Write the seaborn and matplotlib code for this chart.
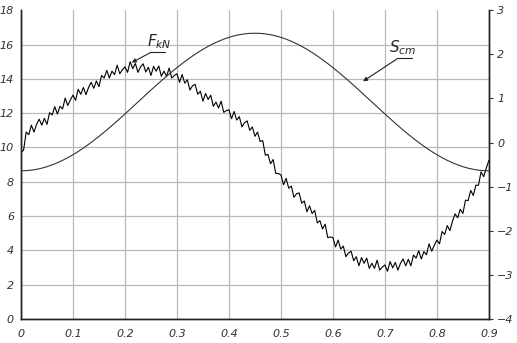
import numpy as np
import pandas as pd
import matplotlib
matplotlib.use("Agg")
import matplotlib.pyplot as plt
import seaborn as sns

# force F, kN, sampled every 0.005 s
force_kn = [
    9.7, 9.85, 10.9, 10.75, 11.3, 10.9, 11.35, 11.65, 11.3, 11.7,
    11.35, 12.03, 11.9, 12.38, 11.95, 12.4, 12.25, 12.88, 12.45, 12.78,
    13.05, 12.75, 13.4, 13.1, 13.5, 13.08, 13.5, 13.8, 13.45, 13.88,
    13.55, 14.2, 14.05, 14.5, 14.05, 14.45, 14.25, 14.8, 14.3, 14.53,
    14.7, 14.38, 15.0, 14.6, 14.9, 14.38, 14.7, 14.88, 14.4, 14.68,
    14.2, 14.73, 14.45, 14.75, 14.15, 14.45, 14.15, 14.63, 14.05, 14.2,
    14.3, 13.8, 14.25, 13.75, 13.95, 13.35, 13.6, 13.68, 13.1, 13.28,
    12.7, 13.15, 12.8, 13.05, 12.4, 12.65, 12.3, 12.7, 12.05, 12.15,
    12.2, 11.68, 12.1, 11.6, 11.8, 11.2, 11.45, 11.55, 11.0, 11.2,
    10.65, 10.9, 10.35, 10.4, 9.55, 9.6, 9.05, 9.3, 8.5, 8.48,
    8.4, 7.83, 8.2, 7.63, 7.75, 7.1, 7.3, 7.35, 6.75, 6.88,
    6.25, 6.6, 6.15, 6.33, 5.6, 5.73, 5.25, 5.53, 4.75, 4.78,
    4.75, 4.2, 4.6, 4.08, 4.25, 3.63, 3.85, 3.95, 3.4, 3.63,
    3.1, 3.58, 3.25, 3.55, 2.95, 3.25, 2.95, 3.43, 2.85, 3.03,
    3.15, 2.78, 3.35, 2.98, 3.3, 2.85, 3.25, 3.5, 3.1, 3.48,
    3.1, 3.73, 3.55, 3.98, 3.5, 3.93, 3.75, 4.38, 3.95, 4.3,
    4.6, 4.38, 5.1, 4.93, 5.45, 5.15, 5.7, 6.13, 5.9, 6.4,
    6.15, 6.93, 6.9, 7.5, 7.2, 7.8, 7.8, 8.58, 8.3, 8.8,
    9.25,
]

# displacement S, cm, sampled every 0.01 s
disp_cm = [
    -0.64, -0.636, -0.625, -0.606, -0.58, -0.546, -0.505, -0.457, -0.403, -0.342,
    -0.275, -0.202, -0.124, -0.04, 0.048, 0.14, 0.236, 0.336, 0.438, 0.543,
    0.649, 0.757, 0.866, 0.974, 1.083, 1.191, 1.297, 1.402, 1.504, 1.604,
    1.70, 1.792, 1.88, 1.964, 2.042, 2.115, 2.182, 2.243, 2.297, 2.345,
    2.386, 2.42, 2.446, 2.465, 2.476, 2.48, 2.476, 2.465, 2.446, 2.42,
    2.386, 2.345, 2.297, 2.243, 2.182, 2.115, 2.042, 1.964, 1.88, 1.792,
    1.70, 1.604, 1.504, 1.402, 1.297, 1.191, 1.083, 0.974, 0.866, 0.757,
    0.649, 0.543, 0.438, 0.336, 0.236, 0.14, 0.048, -0.04, -0.124, -0.202,
    -0.275, -0.342, -0.403, -0.457, -0.505, -0.546, -0.58, -0.606, -0.625, -0.636,
    -0.64,
]

x_ticks = [0, 0.1, 0.2, 0.3, 0.4, 0.5, 0.6, 0.7, 0.8, 0.9]
x_labels = ["0", "0.1", "0.2", "0.3", "0.4", "0.5", "0.6", "0.7", "0.8", "0.9"]
left_ticks = [0, 2, 4, 6, 8, 10, 12, 14, 16, 18]
right_ticks = [-4, -3, -2, -1, 0, 1, 2, 3]


def main():
    sns.set_style("white")
    plt.rcParams['font.family'] = ['Liberation Sans Narrow', 'DejaVu Sans']
    plt.rcParams['font.style'] = 'italic'
    plt.rcParams['mathtext.fontset'] = 'dejavusans'

    f_df = pd.DataFrame({
        't': np.linspace(0, 0.9, len(force_kn)),
        'F': force_kn,
    })
    s_df = pd.DataFrame({
        't': np.linspace(0, 0.9, len(disp_cm)),
        'S': disp_cm,
    })

    fig = plt.figure(figsize=(5.17, 3.43), dpi=100)
    ax = fig.add_axes([0.0406, 0.070, 0.905, 0.900])
    ax2 = ax.twinx()

    sns.lineplot(data=f_df, x='t', y='F', ax=ax, color='black',
                 linewidth=0.8, estimator=None, zorder=3)
    sns.lineplot(data=s_df, x='t', y='S', ax=ax2, color='#333333',
                 linewidth=0.8, estimator=None, zorder=3)

    ax.set_xlim(0, 0.9)
    ax.set_ylim(0, 18)
    ax2.set_ylim(-4, 3)
    ax.set_xticks(x_ticks)
    ax.set_xticklabels(x_labels)
    ax.set_yticks(left_ticks)
    ax2.set_yticks(right_ticks)
    for a in (ax, ax2):
        a.set_xlabel('')
        a.set_ylabel('')
        a.spines['top'].set_visible(False)
        for s in ('left', 'bottom', 'right'):
            a.spines[s].set_color('#222222')
            a.spines[s].set_linewidth(1.0)

    ax.tick_params(axis='both', length=0, labelsize=8, colors='#333333')
    ax.tick_params(axis='x', pad=7)
    ax.tick_params(axis='y', pad=5)
    ax2.tick_params(axis='y', length=3, width=0.8, direction='out',
                    labelsize=8, colors='#333333', pad=3)

    ax.grid(True, color='#b8b8b8', linewidth=0.9)
    ax.yaxis.get_gridlines()[-1].set_visible(False)
    ax2.grid(False)
    ax.set_axisbelow(True)

    # F label with underline and leader
    ax.text(0.243, 15.6, r'$F_{kN}$', fontsize=11, ha='left', va='bottom')
    ax.plot([0.25, 0.277], [15.55, 15.55], color='#222222', lw=0.8)
    ax.annotate('', xy=(0.213, 14.95), xytext=(0.25, 15.55),
                arrowprops=dict(arrowstyle='-|>', color='#222222', lw=0.8,
                                mutation_scale=6, shrinkA=0, shrinkB=0))

    # S label with underline and leader
    ax.text(0.708, 15.25, r'$S_{cm}$', fontsize=11, ha='left', va='bottom')
    ax.plot([0.725, 0.752], [15.2, 15.2], color='#222222', lw=0.8)
    ax.annotate('', xy=(0.658, 13.86), xytext=(0.725, 15.2),
                arrowprops=dict(arrowstyle='-|>', color='#222222', lw=0.8,
                                mutation_scale=6, shrinkA=0, shrinkB=0))

    fig.savefig('out.png', dpi=100)


if __name__ == "__main__":
    main()
